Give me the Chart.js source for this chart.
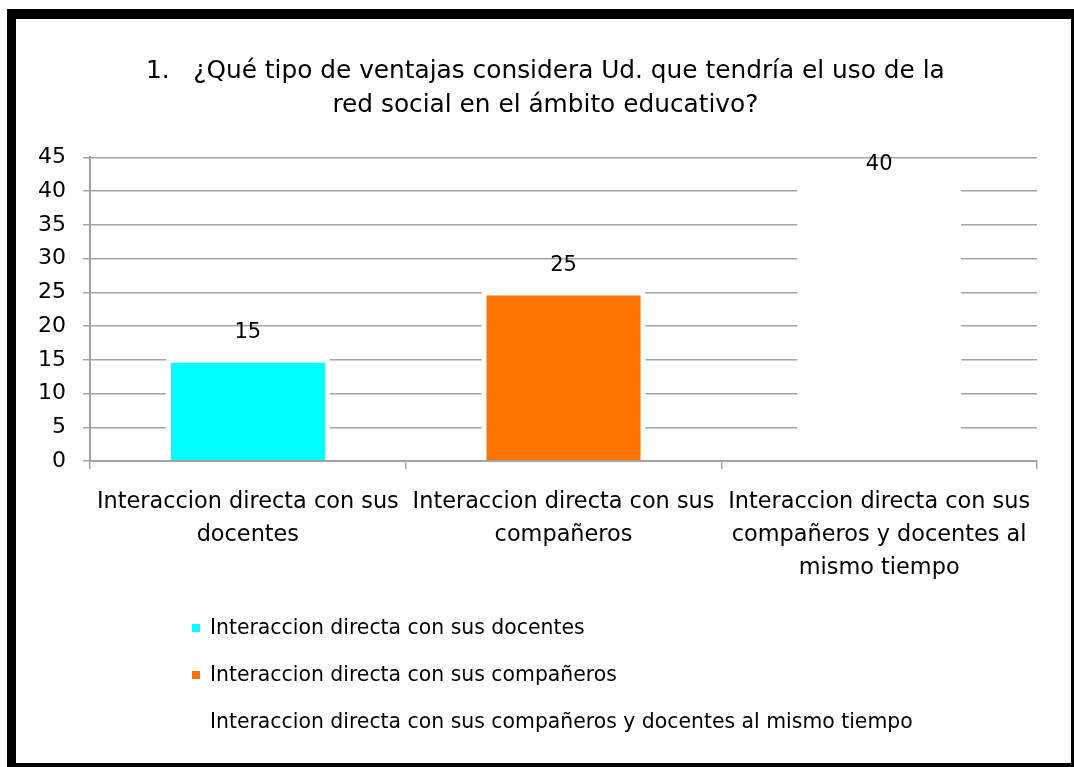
<!DOCTYPE html>
<html>
<head>
<meta charset="utf-8">
<script src="https://cdn.jsdelivr.net/npm/chart.js@4"></script>
<style>
  html, body { margin: 0; padding: 0; width: 1074px; height: 767px; overflow: hidden; background: #fff; }
  #c { position: absolute; left: 0; top: 0; }
  #frame { position: absolute; left: 7px; top: 9px; width: 1067px; height: 758px; box-sizing: border-box;
           border-left: 9px solid #000; border-top: 10px solid #000; border-right: 3px solid #000; border-bottom: 4px solid #000;
           pointer-events: none; }
</style>
</head>
<body>
<canvas id="c" width="1074" height="767"></canvas>
<div id="frame"></div>
<script>
const titleLines = ["  1.   ¿Qué tipo de ventajas considera Ud. que tendría el uso de la", "  red social en el ámbito educativo?"];
const categories = [
  "Interaccion directa con sus docentes",
  "Interaccion directa con sus compañeros",
  "Interaccion directa con sus compañeros y docentes al mismo tiempo"
];
const tickLabels = [
  ["Interaccion directa con sus", "docentes"],
  ["Interaccion directa con sus", "compañeros"],
  ["Interaccion directa con sus", "compañeros y docentes al", "mismo tiempo"]
];
const values = [15, 25, 40];
const barColors = ["#00FFFF", "#FF7400", "#FFFFFF"];
const yTicks = { min: 0, max: 45, step: 5 };

const FONT = "'DejaVu Sans', sans-serif";

const valueLabels = {
  id: 'valueLabels',
  afterDatasetsDraw(chart) {
    const ctx = chart.ctx;
    const meta = chart.getDatasetMeta(0);
    const yScale = chart.scales.y;
    ctx.save();
    ctx.font = "21px " + FONT;
    ctx.fillStyle = "#000";
    ctx.textAlign = "center";
    ctx.textBaseline = "middle";
    meta.data.forEach((bar, i) => {
      const v = chart.data.datasets[0].data[i];
      ctx.fillText(String(v), bar.x, yScale.getPixelForValue(v) - 27);
    });
    ctx.restore();
  }
};

const stackedLegend = {
  id: 'stackedLegend',
  afterDraw(chart) {
    const ctx = chart.ctx;
    const xs = chart.scales.x;
    const ds = chart.data.datasets[0];
    const x0 = chart.chartArea.left + 102;
    const y0 = xs.bottom + 27.5;
    ctx.save();
    ctx.font = "20.4px " + FONT;
    ctx.textAlign = "left";
    ctx.textBaseline = "middle";
    categories.forEach((name, i) => {
      const y = y0 + i * 47;
      ctx.fillStyle = ds.backgroundColor[i];
      ctx.fillRect(x0, y - 5, 8, 8);
      ctx.fillStyle = "#000";
      ctx.fillText(name, x0 + 18, y);
    });
    ctx.restore();
  }
};

new Chart(document.getElementById('c'), {
  type: 'bar',
  data: {
    labels: tickLabels,
    datasets: [{
      label: "Serie 1",
      data: values,
      backgroundColor: barColors,
      borderColor: "#FFFFFF",
      borderWidth: 5,
      borderSkipped: 'start',
      inflateAmount: 2,
      categoryPercentage: 1.0,
      barPercentage: 0.507
    }]
  },
  options: {
    responsive: false,
    animation: false,
    devicePixelRatio: 1,
    layout: { padding: { left: 38, right: 37, top: 0, bottom: 165.5 } },
    plugins: {
      legend: { display: false },
      tooltip: { enabled: false },
      title: {
        display: true,
        text: titleLines,
        color: "#000",
        font: { family: FONT, size: 24.8, weight: 'normal', lineHeight: 1.35 },
        padding: { top: 55, bottom: 35.5 }
      }
    },
    scales: {
      x: {
        offset: true,
        grid: { offset: true, drawOnChartArea: false, drawTicks: true, tickLength: 8, color: "#a4a4a4", lineWidth: 1.5, z: 1 },
        border: { color: "#a4a4a4", width: 2, z: 1 },
        ticks: { color: "#000", font: { family: FONT, size: 22.4, lineHeight: 1.48 }, padding: 16.5, maxRotation: 0, autoSkip: false }
      },
      y: {
        min: yTicks.min,
        max: yTicks.max,
        afterFit(scale) { scale.width = 52; },
        grid: { color: "#a4a4a4", lineWidth: 1.5, tickLength: 7, drawTicks: true },
        border: { color: "#a4a4a4", width: 2 },
        ticks: { stepSize: yTicks.step, color: "#000", font: { family: FONT, size: 22 }, padding: 17 }
      }
    }
  },
  plugins: [valueLabels, stackedLegend]
});
</script>
</body>
</html>
